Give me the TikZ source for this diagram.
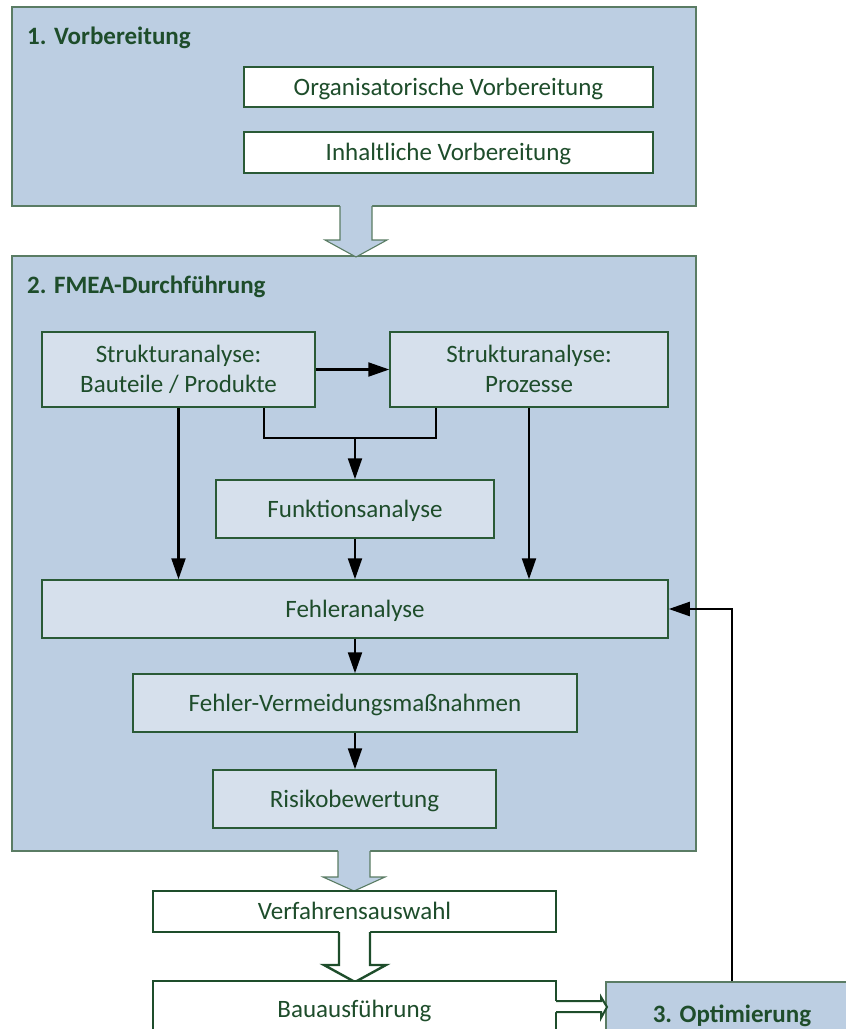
\documentclass[tikz,border=0pt]{standalone}
\usepackage{fontspec}
\setmainfont{Carlito}
\usetikzlibrary{arrows.meta}
\definecolor{outerfill}{HTML}{BCCEE2}
\definecolor{innerfill}{HTML}{D6E0EC}
\definecolor{txtgreen}{HTML}{1E4D2B}
\definecolor{outerline}{HTML}{5A7C64}
\definecolor{innerline}{HTML}{2A5A36}
\definecolor{boldline}{HTML}{1E4D2B}
\begin{document}
\begin{tikzpicture}[x=1pt,y=-1pt,
  every node/.style={font=\fontsize{25}{30}\selectfont, text=txtgreen, inner sep=0pt, align=center},
  outerbox/.style={draw=outerline, fill=outerfill, line width=1.1pt},
  innerbox/.style={draw=innerline, fill=innerfill, line width=1.5pt, text height=18pt, text depth=2pt},
  whitebox/.style={draw=innerline, fill=white, line width=1.5pt, text height=18pt, text depth=2pt},
  procbox/.style={draw=boldline, fill=white, line width=2.4pt, text height=18pt, text depth=2pt},
  optbox/.style={draw=outerline, fill=outerfill, line width=1.1pt, text height=18pt, text depth=2pt, font=\bfseries\fontsize{25}{30}\selectfont},
  twolines/.style={text height=47.5pt, text depth=2.5pt},
  titletext/.style={font=\bfseries\fontsize{25}{30}\selectfont, anchor=base west},
  conn/.style={line width=2.2pt, black, line join=miter},
  arr/.style={conn, -{Triangle[length=21pt,width=14pt]}},
  blockblue/.style={draw=outerline, line width=1.1pt, line join=miter},
  blockwhite/.style={draw=boldline, line width=2.4pt, line join=miter},
]
\useasboundingbox (0,0) rectangle (846,1029);
\clip (0,0) rectangle (846,1029);

% ---- Stage 1
\node[outerbox, minimum width=684pt, minimum height=199pt] (b1) at (354,106.5) {};
\node[titletext] (t1) at (27,44) {1. Vorbereitung};
\node[whitebox, minimum width=409pt, minimum height=40pt] (org) at (448.5,87) {Organisatorische Vorbereitung};
\node[whitebox, minimum width=409pt, minimum height=41pt] (inh) at (448.5,152.5) {Inhaltliche Vorbereitung};

% ---- Stage 2
\node[outerbox, minimum width=684pt, minimum height=595pt] (b2) at (354,553.5) {};
\node[titletext] (t2) at (27,293) {2. FMEA-Durchführung};

% block arrow 1
\fill[outerfill] (340,204) -- (340,240) -- (325,240) -- (356,257) -- (387,240) -- (372,240) -- (372,204) -- cycle;
\draw[blockblue] (340,206) -- (340,240) -- (325,240) -- (356,257) -- (387,240) -- (372,240) -- (372,206);

\node[innerbox, twolines, minimum width=273pt, minimum height=75pt] (sbp) at (178.5,369.5) {Strukturanalyse:\\Bauteile / Produkte};
\node[innerbox, twolines, minimum width=278pt, minimum height=75pt] (sp) at (529,369.5) {Strukturanalyse:\\Prozesse};
\node[innerbox, minimum width=278pt, minimum height=58pt] (funk) at (355,509) {Funktionsanalyse};
\node[innerbox, minimum width=626pt, minimum height=58pt] (fehl) at (355,609) {Fehleranalyse};
\node[innerbox, minimum width=444pt, minimum height=58pt] (verm) at (355,703) {Fehler-Vermeidungsmaßnahmen};
\node[innerbox, minimum width=283pt, minimum height=58pt] (risk) at (354.5,799) {Risikobewertung};

\draw[arr] (sbp.east) -- (sp.west);
\coordinate (j1) at (264,438);
\coordinate (j2) at (436,438);
\draw[conn] (sbp.south -| j1) -- (j1) -- (j2) -- (sp.south -| j2);
\draw[arr] (j1 -| funk.north) -- (funk.north);
\draw[arr] (sbp.south) -- (sbp.south |- fehl.north);
\draw[arr] (sp.south) -- (sp.south |- fehl.north);
\draw[arr] (funk.south) -- (fehl.north);
\draw[arr] (fehl.south) -- (verm.north);
\draw[arr] (verm.south) -- (verm.south |- risk.north);

% block arrow 2
\fill[outerfill] (338,849) -- (338,877) -- (323,877) -- (354,891) -- (385,877) -- (370,877) -- (370,849) -- cycle;
\draw[blockblue] (338,851) -- (338,877) -- (323,877) -- (354,891) -- (385,877) -- (370,877) -- (370,851);

% ---- process boxes
\node[procbox, minimum width=403pt, minimum height=41pt] (verf) at (354.5,911.5) {Verfahrensauswahl};

% block arrow 3
\fill[white] (339,929) -- (339,965) -- (324,965) -- (355,982) -- (386,965) -- (370,965) -- (370,929) -- cycle;
\draw[blockwhite] (339,932) -- (339,965) -- (324,965) -- (355,982) -- (386,965) -- (370,965) -- (370,932);

\node[procbox, minimum width=403pt, minimum height=56pt] (bau) at (354.5,1009) {Bauausführung};
\node[optbox, minimum width=252pt, minimum height=64pt] (opt) at (732,1014) {3. Optimierung};

% block arrow bau -> opt
\fill[white] (553,1001) -- (601,1001) -- (601,997) -- (607,1007) -- (601,1018) -- (601,1012) -- (553,1012) -- cycle;
\draw[blockwhite, line width=2pt] (556,1001) -- (601,1001) -- (601,997) -- (607,1007) -- (601,1018) -- (601,1012) -- (556,1012);

% feedback
\draw[arr] (opt.north) |- (fehl.east);
\end{tikzpicture}
\end{document}
